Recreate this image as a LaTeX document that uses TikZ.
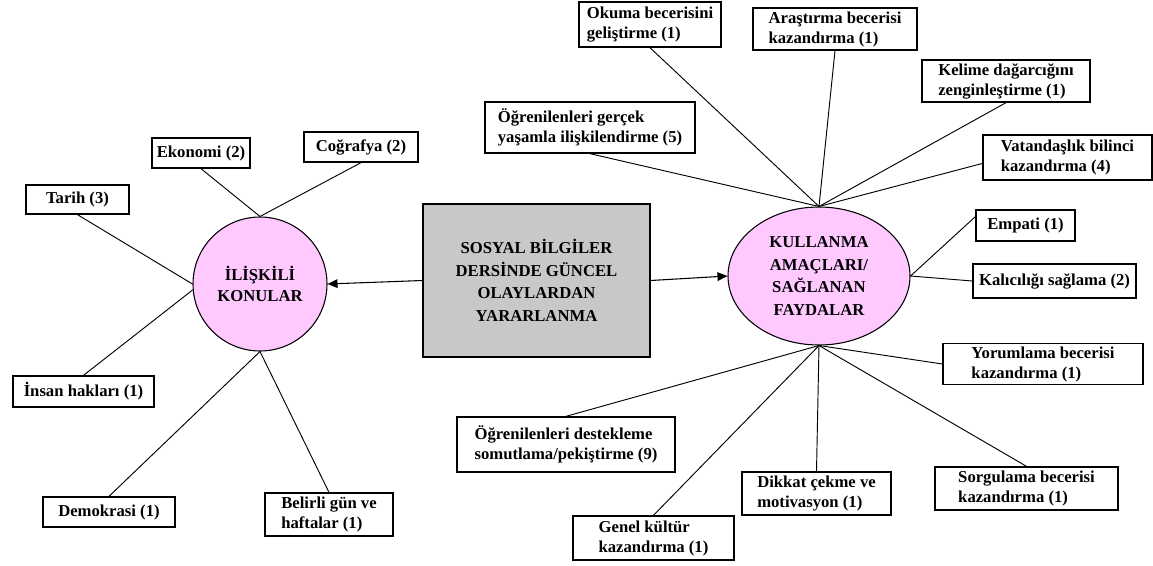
\documentclass[tikz,border=0pt]{standalone}
\usepackage{fontspec}
\setmainfont{Liberation Serif}
\usepackage{tikz}
\usetikzlibrary{shapes.geometric,arrows.meta}
\definecolor{pembe}{RGB}{255,200,255}
\definecolor{gri}{RGB}{200,200,200}
\tikzset{
  kutu/.style 2 args={draw, line width=1pt, fill=white, align=left, inner sep=2pt,
    minimum width=#1pt, minimum height=#2pt},
  baglan/.style={line width=0.7pt},
  ok/.style={line width=0.8pt, -{Triangle[length=7.5pt,width=6.5pt]}}
}

\begin{document}
\begin{tikzpicture}[x=0.75pt,y=-0.75pt,font=\fontsize{12.5}{15}\selectfont\bfseries]
\useasboundingbox (0,0) rectangle (1153,565);

\node[draw, line width=1pt, fill=gri, minimum width=170.25pt, minimum height=114.75pt, align=center,
  font=\fontsize{12.5}{17}\selectfont\bfseries] (ana) at (536.5,280.5)
  {SOSYAL BİLGİLER\\DERSİNDE GÜNCEL\\OLAYLARDAN\\YARARLANMA};

\node[draw, circle, line width=0.8pt, fill=pembe, minimum size=100.5pt, align=center,
  font=\fontsize{12.5}{16}\selectfont\bfseries] (konu) at (260,284) {İLİŞKİLİ\\KONULAR};
\node[draw, ellipse, line width=0.8pt, fill=pembe, inner sep=0pt, minimum width=136.5pt,
  minimum height=103.5pt, align=center, font=\fontsize{12.5}{17}\selectfont\bfseries] (amac)
  at (819,276) {KULLANMA\\AMAÇLARI/\\SAĞLANAN\\FAYDALAR};

\node[kutu={73.5}{22.5}] (eko) at (201,153) {Ekonomi (2)};
\node[kutu={85.5}{22.5}] (cog) at (361,147) {Coğrafya (2)};
\node[kutu={77.25}{21.75}] (tarih) at (77.5,199.5) {Tarih (3)};
\node[kutu={105.75}{23.25}] (insan) at (83.5,391.5) {İnsan hakları (1)};
\node[kutu={99}{22.5}] (demok) at (109,512) {Demokrasi (1)};
\node[kutu={96}{32.25}] (belirli) at (329,514.5) {Belirli gün ve\\haftalar (1)};

\node[kutu={106.5}{33.75}] (okuma) at (650,24.5) {Okuma becerisini\\geliştirme (1)};
\node[kutu={123}{31.5}] (arast) at (835,29) {Araştırma becerisi\\kazandırma (1)};
\node[kutu={126}{31.5}] (kelime) at (1006,81) {Kelime dağarcığını\\zenginleştirme (1)};
\node[kutu={126.75}{33.75}] (vatan) at (1067.5,157.5) {Vatandaşlık bilinci\\kazandırma (4)};
\node[kutu={157.5}{38.25}] (gercek) at (590,127.5) {Öğrenilenleri gerçek\\yaşamla ilişkilendirme (5)};
\node[kutu={74.25}{23.25}] (empati) at (1025.5,225.5) {Empati (1)};
\node[kutu={122.25}{25.5}] (kalici) at (1054.5,281) {Kalıcılığı sağlama (2)};
\node[kutu={150}{30}] (yorum) at (1043,364) {Yorumlama becerisi\\kazandırma (1)};
\node[kutu={137.25}{32.25}] (sorgu) at (1026.5,488.5) {Sorgulama becerisi\\kazandırma (1)};
\node[kutu={111.75}{32.25}] (dikkat) at (816.5,493.5) {Dikkat çekme ve\\motivasyon (1)};
\node[kutu={120.75}{33}] (genel) at (653.5,538) {Genel kültür\\kazandırma (1)};
\node[kutu={163.5}{41.25}] (destek) at (566,444.5) {Öğrenilenleri destekleme\\somutlama/pekiştirme (9)};

\draw[ok] (ana.west) -- (konu.east);
\draw[ok] (ana.east) -- (amac.west);

\draw[baglan] (eko.south) -- (konu.north);
\draw[baglan] (cog.south) -- (konu.north);
\draw[baglan] (tarih.south) -- (konu.west);
\draw[baglan] (insan.north) -- (konu.185);
\draw[baglan] (demok.north) -- (konu.south);
\draw[baglan] (belirli.north) -- (konu.south);

\draw[baglan] (okuma.south) -- (amac.north);
\draw[baglan] (arast.south) -- (amac.north);
\draw[baglan] (kelime.south) -- (amac.north);
\draw[baglan] (vatan.184) -- (amac.north);
\draw[baglan] (gercek.south) -- (amac.north);
\draw[baglan] (empati.170) -- (amac.east);
\draw[baglan] (kalici.west) -- (amac.east);
\draw[baglan] (yorum.west) -- (amac.south);
\draw[baglan] (sorgu.north) -- (amac.south);
\draw[baglan] (dikkat.north) -- (amac.south);
\draw[baglan] (genel.north) -- (amac.south);
\draw[baglan] (destek.north) -- (amac.south);
\end{tikzpicture}
\end{document}
